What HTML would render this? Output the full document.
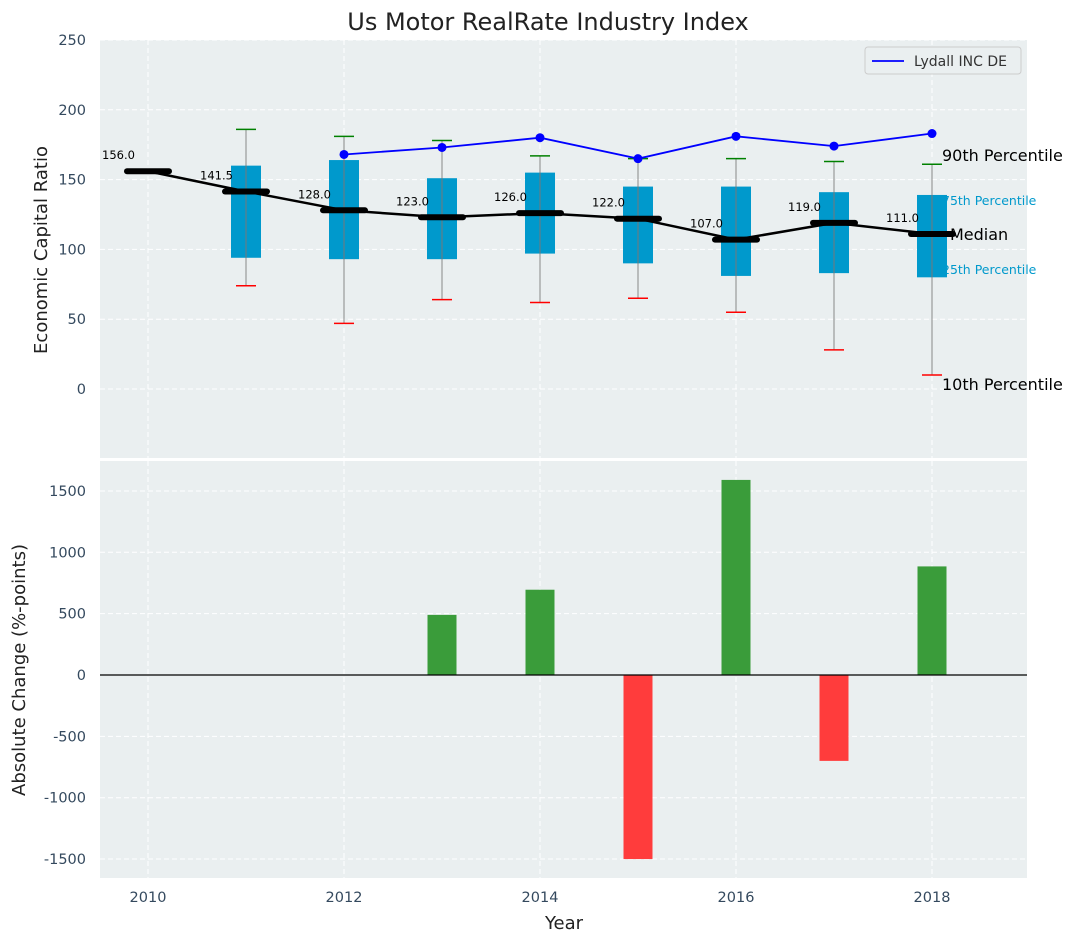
<!DOCTYPE html>
<html><head><meta charset="utf-8"><style>
body{margin:0;background:#fff;font-family:"Liberation Sans","DejaVu Sans",sans-serif}
</style></head><body>
<svg id="chart" width="1077" height="942" viewBox="0 0 1077 942" xmlns="http://www.w3.org/2000/svg" font-family="DejaVu Sans, Liberation Sans, sans-serif"></svg>
<script>
const years=[2010,2011,2012,2013,2014,2015,2016,2017,2018];
const medians=[156,141.5,128,123,126,122,107,119,111];
const boxYears=[2011,2012,2013,2014,2015,2016,2017,2018];
const q1=[94,93,93,97,90,81,83,80];
const q3=[160,164,151,155,145,145,141,139];
const p10=[74,47,64,62,65,55,28,10];
const p90=[186,181,178,167,165,165,163,161];
const lydallYears=[2012,2013,2014,2015,2016,2017,2018];
const lydall=[168,173,180,165,181,174,183];
const changeYears=[2013,2014,2015,2016,2017,2018];
const changes=[490,695,-1500,1590,-700,885];
const topTicks=[0,50,100,150,200,250];
const botTicks=[-1500,-1000,-500,0,500,1000,1500];
const xTicks=[2010,2012,2014,2016,2018];

const svg=document.getElementById('chart');
const NS='http://www.w3.org/2000/svg';
function add(tag,attrs,parent){const e=document.createElementNS(NS,tag);for(const k in attrs)e.setAttribute(k,attrs[k]);(parent||svg).appendChild(e);return e;}
const X=v=>148+(v-2010)*98;
const YT=v=>389-v*1.396;
const YB=v=>675-v*0.1227;
const L=100,R=1027;
const TC='#34495e';

let p=add('rect',{x:L,y:40,width:R-L,height:418,fill:'#eaeff0'});

p=add('rect',{x:L,y:461,width:R-L,height:417,fill:'#eaeff0'});


for(const t of topTicks){add('line',{x1:L,x2:R,y1:YT(t),y2:YT(t),stroke:'#fff','stroke-dasharray':'5,3'});
 const tx=add('text',{x:86,y:YT(t)+5,'text-anchor':'end','font-size':14.5,fill:TC});tx.textContent=t;
 }
for(const t of botTicks){add('line',{x1:L,x2:R,y1:YB(t),y2:YB(t),stroke:'#fff','stroke-dasharray':'5,3'});
 const tx=add('text',{x:86,y:YB(t)+5,'text-anchor':'end','font-size':14.5,fill:TC});tx.textContent=t;
 }
for(const t of xTicks){add('line',{x1:X(t),x2:X(t),y1:40,y2:458,stroke:'#fff','stroke-dasharray':'5,3'});
 add('line',{x1:X(t),x2:X(t),y1:461,y2:878,stroke:'#fff','stroke-dasharray':'5,3'});
 const tx=add('text',{x:X(t),y:902,'text-anchor':'middle','font-size':14.5,fill:TC});tx.textContent=t;
 }

boxYears.forEach((yr,i)=>{const cx=X(yr);
 const g=add('g',{});
 add('line',{x1:cx,x2:cx,y1:YT(p90[i]),y2:YT(p10[i]),stroke:'#888','stroke-width':1},g);
 add('rect',{x:cx-15,y:YT(q3[i]),width:30,height:YT(q1[i])-YT(q3[i]),fill:'#0099cc'},g);
 add('line',{x1:cx,x2:cx,y1:YT(q3[i]),y2:YT(q1[i]),stroke:'#777','stroke-width':1},g);
 add('line',{x1:cx-10,x2:cx+10,y1:YT(p90[i]),y2:YT(p90[i]),stroke:'green','stroke-width':1.5},g);
 add('line',{x1:cx-10,x2:cx+10,y1:YT(p10[i]),y2:YT(p10[i]),stroke:'red','stroke-width':1.5},g);
});

let pl=add('polyline',{points:years.map((y,i)=>X(y)+','+YT(medians[i])).join(' '),fill:'none',stroke:'#000','stroke-width':2.5});

years.forEach((y,i)=>{const m=add('line',{x1:X(y)-21,x2:X(y)+21,y1:YT(medians[i]),y2:YT(medians[i]),stroke:'#000','stroke-width':6,'stroke-linecap':'round'});
 
 const t=add('text',{x:X(y)-46,y:YT(medians[i])-12,'font-size':11.5,fill:'#000'});t.textContent=medians[i].toFixed(1);
 });

pl=add('polyline',{points:lydallYears.map((y,i)=>X(y)+','+YT(lydall[i])).join(' '),fill:'none',stroke:'#0000ff','stroke-width':1.8});

lydallYears.forEach((y,i)=>{const c=add('circle',{cx:X(y),cy:YT(lydall[i]),r:4.5,fill:'#0000ff'});
 });

const ann=[['90th Percentile',942,161,16,'#000'],['75th Percentile',942,205,12.5,'#0099cc'],['Median',950,240,16,'#000'],['25th Percentile',942,274,12.5,'#0099cc'],['10th Percentile',942,390,16,'#000']];
ann.forEach(a=>{const t=add('text',{x:a[1],y:a[2],'font-size':a[3],fill:a[4]});t.textContent=a[0];
 });

const lg=add('g',{});
add('rect',{x:865,y:47,width:156,height:27,fill:'#eaeff0',stroke:'#ccc',rx:3},lg);
add('line',{x1:872,x2:904,y1:61,y2:61,stroke:'#0000ff','stroke-width':1.8},lg);
let lt=add('text',{x:914,y:66,'font-size':14,fill:'#333'},lg);lt.textContent='Lydall INC DE';

changeYears.forEach((y,i)=>{const v=changes[i];const r=add('rect',{x:X(y)-14.5,y:Math.min(YB(v),YB(0)),width:29,height:Math.abs(YB(v)-YB(0)),fill:v>=0?'#3a9c3a':'#ff3c3c'});
 });
let zl=add('line',{x1:L,x2:R,y1:YB(0),y2:YB(0),stroke:'#000','stroke-width':1.2});


let t=add('text',{x:548,y:30,'text-anchor':'middle','font-size':24,fill:'#222'});t.textContent='Us Motor RealRate Industry Index';

t=add('text',{x:564,y:929,'text-anchor':'middle','font-size':18,fill:'#222'});t.textContent='Year';

t=add('text',{x:0,y:0,'text-anchor':'middle','font-size':18,fill:'#222',transform:'translate(47,250) rotate(-90)'});t.textContent='Economic Capital Ratio';

t=add('text',{x:0,y:0,'text-anchor':'middle','font-size':18,fill:'#222',transform:'translate(25,670) rotate(-90)'});t.textContent='Absolute Change (%-points)';

</script>
</body></html>
